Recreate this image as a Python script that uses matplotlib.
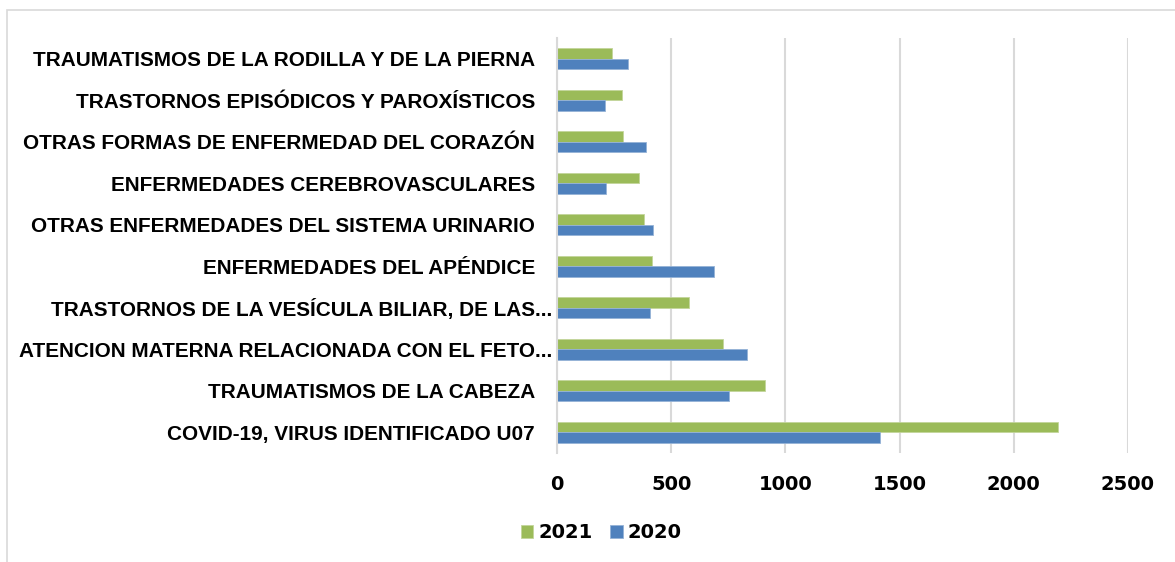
import numpy as np
import matplotlib.pyplot as plt
from matplotlib.patches import Rectangle
from matplotlib.transforms import ScaledTranslation

# categories bottom to top, as Excel draws them
categories = ["COVID-19, VIRUS IDENTIFICADO U07",
              "TRAUMATISMOS DE LA CABEZA",
              "ATENCION MATERNA RELACIONADA CON EL FETO...",
              "TRASTORNOS DE LA VESÍCULA BILIAR, DE LAS...",
              "ENFERMEDADES DEL APÉNDICE",
              "OTRAS ENFERMEDADES DEL SISTEMA URINARIO",
              "ENFERMEDADES CEREBROVASCULARES",
              "OTRAS FORMAS DE ENFERMEDAD DEL CORAZÓN",
              "TRASTORNOS EPISÓDICOS Y PAROXÍSTICOS",
              "TRAUMATISMOS DE LA RODILLA Y DE LA PIERNA"]
v2021 = [2195, 909, 726, 579, 414, 382, 357, 291, 286, 242]
v2020 = [1412, 751, 831, 407, 689, 419, 215, 391, 210, 309]
xticks = [0, 500, 1000, 1500, 2000, 2500]

green = "#9BBB59"
blue = "#4F81BD"

label_font = ['Liberation Sans', 'DejaVu Sans']

fig = plt.figure(figsize=(11.75, 5.62), dpi=100)
# light chart border like the excel chart area
fig.patches.append(Rectangle((7/1175, -0.1), 1.2, 1 - 10/562 + 0.1, transform=fig.transFigure,
                             fill=False, edgecolor="#D9D9D9", linewidth=1.2))
ax = fig.add_axes([557/1175, 1 - 453/562, (1128 - 557)/1175, (453 - 38)/562])

y = np.arange(len(categories))
h = 0.257
ax.barh(y + h/2, v2021, height=h, color=green, edgecolor="#C3D69B", linewidth=0.6, label="2021")
ax.barh(y - h/2, v2020, height=h, color=blue, edgecolor="#95B3D7", linewidth=0.6, label="2020")

ax.set_xlim(0, 2500)
ax.set_ylim(-0.5, len(categories) - 0.5)
ax.set_xticks(xticks)
ax.set_xticklabels([str(t) for t in xticks], fontsize=14, fontweight='bold', family='DejaVu Sans')
ax.set_yticks(y)
ax.set_yticklabels(categories, fontsize=14.95, fontweight='bold', family=label_font)
ax.tick_params(axis='y', length=0, pad=16)
ax.tick_params(axis='x', length=0, pad=16)

for lab in ax.get_yticklabels():
    if lab.get_text().endswith("..."):
        lab.set_transform(lab.get_transform() + ScaledTranslation(17/100, 0, fig.dpi_scale_trans))

ax.grid(axis='x', color="#D9D9D9", linewidth=1.5)
ax.set_axisbelow(True)
for s in ["top", "right", "bottom"]:
    ax.spines[s].set_visible(False)
ax.spines["left"].set_color("#D9D9D9")
ax.spines["left"].set_linewidth(1.5)

ax.legend(loc="center", bbox_to_anchor=(601/1175, 1 - 533/562), bbox_transform=fig.transFigure,
          ncol=2, frameon=False, prop={'size': 14, 'weight': 'bold', 'family': 'DejaVu Sans'},
          handlelength=0.65, handleheight=0.65, handletextpad=0.25, columnspacing=0.9,
          borderaxespad=0, borderpad=0)

fig.savefig("out.png", dpi=100)
